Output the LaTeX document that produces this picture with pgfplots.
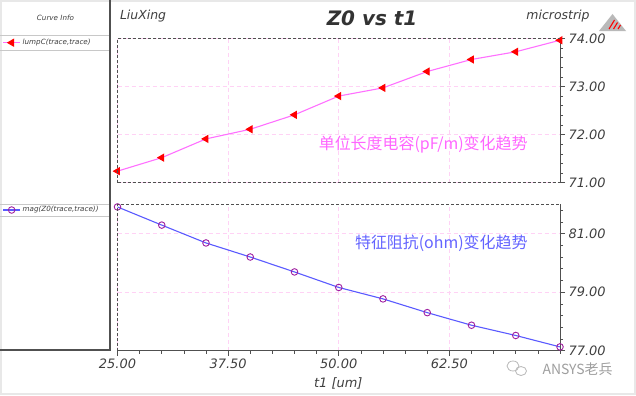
\documentclass[border=0pt]{standalone}
\usepackage{fontspec}
\setmainfont{DejaVu Sans}
\newfontfamily\cjk{Noto Sans CJK SC}
\usepackage{pgfplots}
\pgfplotsset{compat=1.18}
\usepackage{pgfplotstable}

\definecolor{magline}{HTML}{FF70FF}
\definecolor{redmark}{HTML}{FF0000}
\definecolor{blueline}{HTML}{5A5AFF}
\definecolor{purplemark}{HTML}{A020A0}
\definecolor{axgray}{HTML}{505050}
\definecolor{txtgray}{HTML}{404040}
\definecolor{gridpink}{HTML}{FFD2F5}
\definecolor{panelline}{HTML}{C8C8C8}
\definecolor{annmag}{HTML}{FF66FF}
\definecolor{annblue}{HTML}{6464FF}

\pgfplotstableread{
x y
25 71.24
30 71.52
35 71.91
40 72.11
45 72.41
50 72.80
55 72.97
60 73.31
65 73.56
70 73.72
75 73.96
}\lumpC

\pgfplotstableread{
x y
25 81.91
30 81.29
35 80.68
40 80.20
45 79.69
50 79.16
55 78.77
60 78.30
65 77.87
70 77.52
75 77.13
}\magZ

\tikzset{hborder/.style={draw=axgray, line width=0.8pt, dash pattern=on 3bp off 2bp}}

\pgfplotsset{
 hfss/.style={
  scale only axis, width=442.5bp,
  xmin=25, xmax=75,
  xtick={25,37.5,50,62.5},
  tick align=outside,
  major tick length=5bp, minor tick length=3bp,
  axis x line*=bottom, axis y line*=right,
  axis line style={draw=axgray, line width=0.8pt},
  tick style={draw=axgray, line width=0.6pt},
  grid=major,
  major grid style={draw=gridpink, dash pattern=on 4bp off 3bp, line width=0.6pt},
  scaled ticks=false,
  /pgf/number format/assume math mode=true,
  /pgf/number format/fixed,
  /pgf/number format/fixed zerofill,
  /pgf/number format/precision=2,
  ticklabel style={font=\fontsize{13}{13}\selectfont\itshape, text=txtgray},
  clip mode=individual,
  legend style={draw=none, fill=none, inner sep=0pt, outer sep=0pt, anchor=west,
    font=\fontsize{7.2}{8}\selectfont\itshape, text=txtgray},
  legend cell align=left,
 },
}

\begin{document}
\begin{tikzpicture}[x=1bp,y=1bp]
\useasboundingbox (0,0) rectangle (636,395);
\fill[white] (0,0) rectangle (636,395);
\draw[gray!18, line width=2bp] (1,1) rectangle (635,394);

% left panel
\draw[panelline, line width=0.8bp] (0,359.5) -- (110,359.5);
\draw[panelline, line width=0.8bp] (0,345) -- (110,345);
\draw[panelline, line width=0.8bp] (0,191) -- (110,191);
\draw[panelline, line width=0.8bp] (0,178.3) -- (110,178.3);
\draw[axgray, line width=1.2bp] (110,395) -- (110,45) -- (0,45);
\node[font=\fontsize{7.2}{8}\selectfont\itshape, text=txtgray] at (55.5,377) {Curve Info};

% header texts
\node[anchor=west, font=\fontsize{12.5}{13}\selectfont\itshape, text=txtgray] at (116.5,378.6) {LiuXing};
\node[font=\fontsize{20}{20}\selectfont\bfseries\itshape, text=black!80] at (372,376.5) {Z0 vs t1};
\node[anchor=east, font=\fontsize{12.5}{13}\selectfont\itshape, text=txtgray] at (593,378.6) {microstrip};
% logo
\fill[gray!55] (599,364) -- (626,364) -- (612.5,381) -- cycle;
\draw[red, line width=1.1bp] (609,366) -- (614.5,375);
\draw[red, line width=1.1bp] (613.5,366) -- (617.5,372.5);
\draw[red, line width=1.1bp] (618,366) -- (620.5,370);

% top axis
\begin{axis}[hfss, at={(117.5bp,212.3bp)}, anchor=south west, height=144.4bp,
  ymin=71, ymax=74, ytick={71,72,73,74},
  minor ytick={71.2,71.4,71.6,71.8,72.2,72.4,72.6,72.8,73.2,73.4,73.6,73.8},
  x axis line style={hborder}, xticklabels={}, xtick style={draw=none},
  legend style={at={(axis description cs:-0.2597,0.9695)}}]
\addplot[color=magline, line width=1.1pt, mark=triangle*, mark size=3.8pt,
  mark options={fill=redmark, draw=redmark, rotate=90, solid}] table[x=x,y=y]{\lumpC};
\addlegendentry{lumpC(trace,trace)}
\draw[hborder] (rel axis cs:0,0) -- (rel axis cs:0,1) -- (rel axis cs:1,1);
\end{axis}

% bottom axis
\begin{axis}[hfss, at={(117.5bp,44.3bp)}, anchor=south west, height=146.4bp,
  ymin=77, ymax=82, ytick={77,79,81},
  minor ytick={77.4,77.8,78.2,78.6,79.4,79.8,80.2,80.6,81.4,81.8},
  minor xtick={27.5,30,32.5,35,40,42.5,45,47.5,52.5,55,57.5,60,65,67.5,70,72.5,75},
  legend style={at={(axis description cs:-0.2597,0.961)}}]
\addplot[color=blueline, line width=1.1pt, mark=o, mark size=3.3pt,
  mark options={draw=purplemark, line width=0.9pt, solid}] table[x=x,y=y]{\magZ};
\addlegendentry{mag(Z0(trace,trace))}
\draw[hborder] (rel axis cs:0,0) -- (rel axis cs:0,1) -- (rel axis cs:1,1);
\end{axis}

% annotations
\node[anchor=east, font=\cjk\fontsize{16}{16}\selectfont, text=annmag] at (531,250) {单位长度电容(pF/m)变化趋势};
\node[anchor=east, font=\cjk\fontsize{16}{16}\selectfont, text=annblue] at (531,151.7) {特征阻抗(ohm)变化趋势};

% x label
\node[font=\fontsize{13}{13}\selectfont\itshape, text=txtgray] at (338.3,11.5) {t1 [um]};

% watermark
\draw[gray!55, line width=0.8bp] (513,29) circle [x radius=6, y radius=5];
\draw[gray!55, line width=0.8bp] (521,24) circle [x radius=5.5, y radius=4.5];
\node[anchor=west, font=\cjk\fontsize{14}{14}\selectfont, text=gray!75] at (539,25.4) {ANSYS老兵};
\end{tikzpicture}
\end{document}
